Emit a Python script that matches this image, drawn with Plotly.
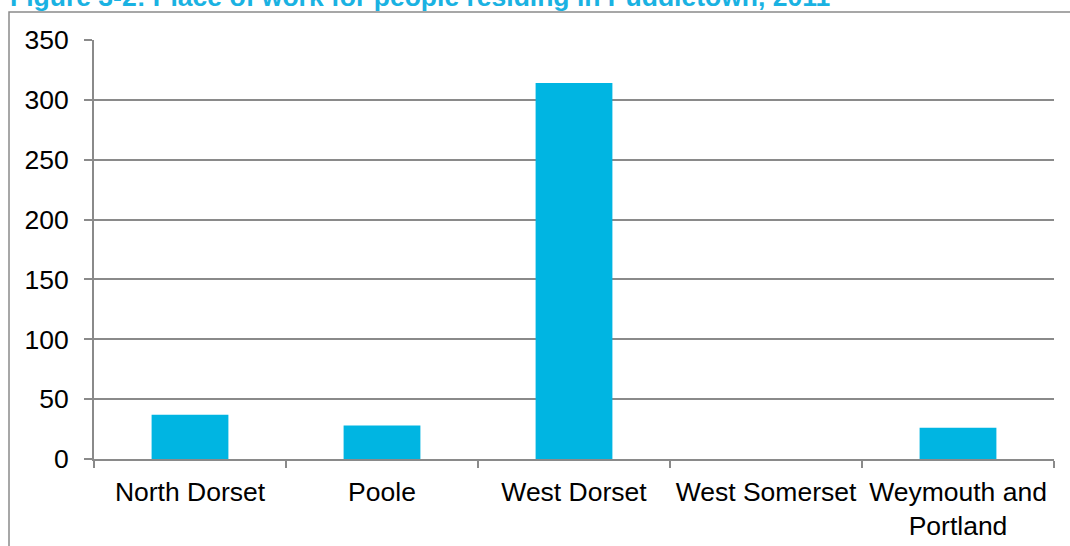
import plotly.graph_objects as go

categories = ["North Dorset", "Poole", "West Dorset", "West Somerset", "Weymouth and<br>Portland"]
values = [37, 28, 314, 0, 26]
y_ticks = [0, 50, 100, 150, 200, 250, 300, 350]
title_text = "Figure 3-2: Place of work for people residing in Puddletown, 2011"

GRAY = "#8a8a8a"
BLUE = "#00B5E2"

W, H = 1070, 546
L, R, T, B = 94, 16, 40, 87
pw = W - L - R
ph = H - T - B

def px_to_paper_x(px):
    return (px - L) / pw

def px_to_paper_y(py):
    return (H - B - py) / ph

fig = go.Figure()
fig.add_trace(go.Bar(
    x=categories, y=values,
    marker=dict(color=BLUE, line=dict(width=0)),
    showlegend=False,
))

fig.update_layout(
    width=W, height=H,
    margin=dict(l=L, r=R, t=T, b=B, autoexpand=False),
    paper_bgcolor="white", plot_bgcolor="white",
    bargap=0.6,
    font=dict(family="Liberation Sans, Arial, sans-serif", size=26.5, color="black"),
    xaxis=dict(
        type="category", tickson="boundaries", ticks="outside", ticklen=7,
        tickcolor=GRAY, tickwidth=2, showline=True, linecolor=GRAY, linewidth=2,
        showgrid=False, ticklabelstandoff=8, automargin=False,
    ),
    yaxis=dict(
        range=[0, 350], tickvals=y_ticks, ticks="outside", ticklen=8,
        tickcolor=GRAY, tickwidth=2, showline=True, linecolor=GRAY, linewidth=2,
        showgrid=True, gridcolor=GRAY, gridwidth=1.5, zeroline=False,
        ticklabelstandoff=10, automargin=False,
    ),
    shapes=[dict(
        type="rect", xref="paper", yref="paper",
        x0=px_to_paper_x(9), x1=px_to_paper_x(1080),
        y0=px_to_paper_y(560), y1=px_to_paper_y(12),
        line=dict(color=GRAY, width=1.5), fillcolor="rgba(0,0,0,0)", layer="below",
    )],
    annotations=[dict(
        text="<b>" + title_text + "</b>", xref="paper", yref="paper",
        x=px_to_paper_x(8), y=px_to_paper_y(14), xanchor="left", yanchor="bottom",
        showarrow=False, font=dict(size=26.5, color="#1AB2E2",
                                   family="Liberation Sans, Arial, sans-serif"),
    )],
)

fig.write_html("out.html", config={"displayModeBar": False},
               post_script="document.body.style.margin='0';document.body.style.overflow='hidden';")
